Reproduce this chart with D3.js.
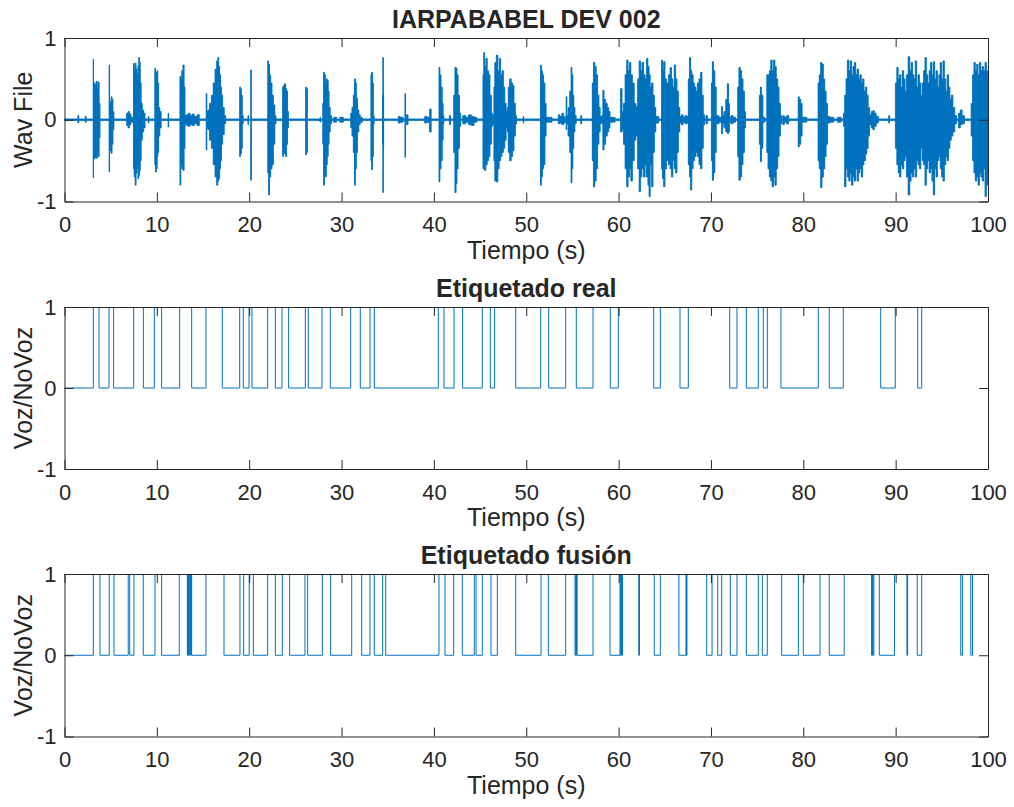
<!DOCTYPE html>
<html>
<head>
<meta charset="utf-8">
<script src="https://cdn.jsdelivr.net/npm/d3@7"></script>
<style>
  body { margin: 0; background: #ffffff; }
  text { font-family: "Liberation Sans", Arial, Helvetica, sans-serif; fill: #262626; }
</style>
</head>
<body>
<svg id="chart" width="1014" height="807"></svg>
<script>
// ---- data ----
const xTicks = [0, 10, 20, 30, 40, 50, 60, 70, 80, 90, 100];
const yTicks = [-1, 0, 1];
const panelTitles = ["IARPABABEL DEV 002", "Etiquetado real", "Etiquetado fusión"];
const yLabels = ["Wav File", "Voz/NoVoz", "Voz/NoVoz"];
const xLabel = "Tiempo (s)";

// waveform envelope: [time (s), upper peak, lower peak]
const waveEnvelope = [
  [0,0.01,-0.01],[1.4,0.01,-0.01],[1.5,0.05,-0.04],[1.6,0.01,-0.01],
  [2.2,0.01,-0.01],[2.3,0.04,-0.03],[2.4,0.01,-0.01],
  [3.1,0.01,-0.01],[3.13,0.74,-0.71],[3.16,0.2,-0.25],[3.22,0.45,-0.48],[3.35,0.43,-0.46],[3.5,0.47,-0.47],[3.6,0.38,-0.4],[3.7,0.46,-0.45],[3.8,0.2,-0.22],[3.88,0.01,-0.01],
  [4.82,0.01,-0.01],[4.86,0.67,-0.64],[4.9,0.2,-0.2],[5.0,0.22,-0.38],[5.1,0.28,-0.41],[5.2,0.25,-0.3],[5.3,0.1,-0.12],[5.4,0.01,-0.01],
  [6.65,0.01,-0.01],[6.8,0.08,-0.07],[6.95,0.1,-0.1],[7.1,0.07,-0.06],[7.3,0.03,-0.03],
  [7.45,0.03,-0.03],[7.5,0.69,-0.6],[7.6,0.6,-0.7],[7.7,0.69,-0.8],[7.8,0.62,-0.65],[7.9,0.55,-0.6],[8.0,0.66,-0.72],[8.08,0.76,-0.68],[8.15,0.7,-0.62],[8.25,0.45,-0.5],[8.35,0.2,-0.25],[8.5,0.12,-0.15],[8.65,0.08,-0.1],[8.8,0.01,-0.01],
  [9.05,0.01,-0.01],[9.1,0.04,-0.04],[9.15,0.01,-0.01],
  [9.75,0.01,-0.01],[9.82,0.63,-0.55],[9.9,0.58,-0.64],[10.0,0.55,-0.6],[10.05,0.6,-0.45],[10.15,0.45,-0.4],[10.25,0.15,-0.2],[10.4,0.1,-0.1],[10.55,0.01,-0.01],
  [11.2,0.01,-0.01],[11.25,0.08,-0.09],[11.3,0.01,-0.01],
  [12.45,0.01,-0.01],[12.55,0.53,-0.8],[12.65,0.5,-0.55],[12.75,0.6,-0.6],[12.9,0.67,-0.62],[13.0,0.4,-0.35],[13.1,0.05,-0.05],
  [13.3,0.06,-0.07],[13.5,0.08,-0.08],[13.7,0.05,-0.06],[13.9,0.07,-0.07],[14.2,0.04,-0.05],[14.5,0.06,-0.07],[14.7,0.01,-0.01],
  [15.3,0.01,-0.01],[15.38,0.32,-0.37],[15.45,0.1,-0.1],[15.6,0.12,-0.12],[15.8,0.2,-0.25],[16.0,0.3,-0.35],[16.2,0.45,-0.55],[16.4,0.62,-0.7],[16.55,0.72,-0.8],[16.65,0.76,-0.75],[16.75,0.65,-0.72],[16.85,0.55,-0.6],[16.95,0.4,-0.5],[17.05,0.3,-0.3],[17.2,0.15,-0.18],[17.4,0.05,-0.05],[17.5,0.01,-0.01],
  [18.95,0.01,-0.01],[19.0,0.4,-0.45],[19.1,0.38,-0.42],[19.2,0.3,-0.35],[19.3,0.05,-0.05],[19.4,0.01,-0.01],
  [19.85,0.01,-0.01],[19.9,0.05,-0.06],[19.95,0.01,-0.01],
  [20.15,0.01,-0.01],[20.2,0.61,-0.74],[20.25,0.01,-0.01],
  [21.98,0.01,-0.01],[22.05,0.72,-0.65],[22.15,0.68,-0.92],[22.25,0.55,-0.7],[22.4,0.45,-0.6],[22.55,0.3,-0.55],[22.7,0.18,-0.3],[22.85,0.05,-0.05],[22.95,0.01,-0.01],
  [23.6,0.01,-0.01],[23.65,0.4,-0.45],[23.75,0.42,-0.4],[23.9,0.44,-0.42],[24.0,0.38,-0.45],[24.1,0.35,-0.3],[24.2,0.1,-0.1],[24.3,0.01,-0.01],
  [26.1,0.01,-0.01],[26.15,0.4,-0.43],[26.25,0.38,-0.4],[26.35,0.01,-0.01],
  [27.65,0.01,-0.01],[27.7,0.03,-0.03],[27.75,0.01,-0.01],
  [27.95,0.01,-0.01],[28.0,0.2,-0.3],[28.1,0.58,-0.8],[28.2,0.55,-0.65],[28.3,0.45,-0.7],[28.4,0.5,-0.55],[28.5,0.48,-0.45],[28.6,0.35,-0.3],[28.7,0.15,-0.15],[28.85,0.05,-0.05],[29.0,0.01,-0.01],
  [29.3,0.03,-0.03],[29.6,0.01,-0.01],[30.0,0.03,-0.03],[30.4,0.01,-0.01],
  [30.95,0.01,-0.01],[31.05,0.08,-0.1],[31.2,0.15,-0.2],[31.35,0.3,-0.4],[31.45,0.5,-0.8],[31.55,0.45,-0.6],[31.65,0.26,-0.4],[31.8,0.12,-0.15],[31.95,0.06,-0.06],[32.1,0.03,-0.03],[32.4,0.01,-0.01],
  [33.15,0.01,-0.01],[33.22,0.55,-0.5],[33.3,0.58,-0.61],[33.4,0.45,-0.45],[33.5,0.05,-0.05],[33.55,0.01,-0.01],
  [34.42,0.01,-0.01],[34.47,0.3,-0.3],[34.5,0.76,-0.89],[34.54,0.3,-0.35],[34.58,0.01,-0.01],
  [36.1,0.01,-0.01],[36.2,0.04,-0.04],[36.5,0.03,-0.03],[36.85,0.01,-0.01],[36.9,0.32,-0.46],[36.95,0.01,-0.01],[37.1,0.06,-0.06],[37.3,0.01,-0.01],
  [38.9,0.01,-0.01],[39.1,0.04,-0.04],[39.4,0.03,-0.03],[39.65,0.13,-0.15],[39.75,0.01,-0.01],
  [40.5,0.01,-0.01],[40.6,0.64,-0.76],[40.7,0.55,-0.6],[40.85,0.4,-0.5],[40.95,0.2,-0.25],[41.05,0.05,-0.05],[41.1,0.01,-0.01],
  [41.6,0.01,-0.01],[41.75,0.05,-0.06],[41.85,0.01,-0.01],
  [42.1,0.01,-0.01],[42.2,0.3,-0.4],[42.35,0.64,-0.89],[42.45,0.63,-0.78],[42.55,0.55,-0.6],[42.7,0.3,-0.35],[42.85,0.08,-0.08],[42.95,0.01,-0.01],
  [43.3,0.05,-0.05],[43.6,0.03,-0.03],[43.9,0.06,-0.06],[44.2,0.04,-0.07],[44.5,0.03,-0.03],[44.8,0.01,-0.01],
  [45.3,0.01,-0.01],[45.35,0.55,-0.6],[45.45,0.82,-0.6],[45.55,0.65,-0.62],[45.7,0.75,-0.55],[45.85,0.6,-0.5],[46.0,0.55,-0.45],[46.15,0.3,-0.3],[46.3,0.08,-0.08],
  [46.45,0.05,-0.05],[46.55,0.4,-0.5],[46.65,0.7,-0.75],[46.85,0.79,-0.76],[47.0,0.6,-0.6],[47.15,0.75,-0.5],[47.3,0.55,-0.45],[47.45,0.6,-0.4],[47.6,0.4,-0.35],[47.75,0.2,-0.25],[47.9,0.1,-0.1],
  [48.0,0.15,-0.15],[48.1,0.4,-0.4],[48.3,0.5,-0.5],[48.45,0.45,-0.45],[48.6,0.42,-0.38],[48.75,0.2,-0.2],[48.9,0.05,-0.05],[49.0,0.01,-0.01],
  [49.65,0.01,-0.01],[49.7,0.04,-0.04],[49.75,0.01,-0.01],
  [51.5,0.01,-0.01],[51.58,0.67,-0.8],[51.7,0.6,-0.7],[51.8,0.55,-0.6],[51.95,0.45,-0.55],[52.1,0.2,-0.2],[52.2,0.03,-0.03],
  [53.4,0.01,-0.01],[53.55,0.06,-0.05],[53.75,0.04,-0.04],[53.95,0.08,-0.06],[54.15,0.04,-0.04],
  [54.3,0.01,-0.01],[54.35,0.28,-0.12],[54.45,0.05,-0.05],[54.6,0.15,-0.2],[54.8,0.35,-0.4],[54.9,0.64,-0.77],[55.0,0.55,-0.6],[55.1,0.3,-0.35],[55.2,0.15,-0.15],[55.35,0.05,-0.05],[55.45,0.01,-0.01],
  [55.85,0.01,-0.01],[55.95,0.05,-0.05],[56.05,0.01,-0.01],
  [57.1,0.01,-0.01],[57.2,0.45,-0.5],[57.35,0.7,-0.82],[57.5,0.65,-0.75],[57.65,0.55,-0.6],[57.8,0.3,-0.3],[57.95,0.15,-0.15],[58.05,0.04,-0.04],
  [58.25,0.05,-0.05],[58.35,0.36,-0.37],[58.5,0.25,-0.3],[58.7,0.2,-0.2],[58.85,0.15,-0.15],[59.0,0.1,-0.1],[59.15,0.03,-0.03],
  [60.1,0.01,-0.01],[60.3,0.38,-0.15],[60.45,0.1,-0.12],[60.6,0.2,-0.3],[60.8,0.55,-0.6],[60.95,0.73,-0.82],[61.1,0.6,-0.7],[61.25,0.7,-0.6],[61.4,0.55,-0.75],[61.6,0.45,-0.5],[61.8,0.2,-0.25],[61.95,0.16,-0.2],[62.15,0.5,-0.6],[62.3,0.72,-0.88],[62.45,0.6,-0.7],[62.6,0.7,-0.6],[62.8,0.55,-0.7],[62.95,0.5,-0.55],[63.1,0.75,-0.7],[63.25,0.65,-0.8],[63.35,0.55,-0.94],[63.5,0.4,-0.55],[63.65,0.45,-0.82],[63.8,0.3,-0.4],[63.95,0.15,-0.15],[64.1,0.04,-0.04],
  [64.6,0.01,-0.01],[64.7,0.73,-0.6],[64.8,0.6,-0.72],[64.95,0.71,-0.82],[65.1,0.5,-0.6],[65.3,0.45,-0.5],[65.5,0.55,-0.55],[65.65,0.64,-0.6],[65.8,0.5,-0.7],[65.95,0.4,-0.5],[66.1,0.67,-0.6],[66.25,0.5,-0.65],[66.4,0.35,-0.4],[66.55,0.15,-0.15],[66.7,0.04,-0.04],
  [66.9,0.06,-0.06],[67.1,0.03,-0.03],[67.3,0.05,-0.05],
  [67.5,0.04,-0.04],[67.6,0.5,-0.55],[67.75,0.76,-0.7],[67.85,0.6,-0.86],[68.0,0.55,-0.6],[68.15,0.45,-0.5],[68.3,0.4,-0.45],[68.45,0.35,-0.4],[68.6,0.45,-0.45],[68.8,0.5,-0.55],[68.95,0.58,-0.6],[69.1,0.3,-0.35],[69.25,0.06,-0.06],[69.4,0.01,-0.01],
  [69.55,0.05,-0.05],[69.7,0.01,-0.01],
  [70.0,0.01,-0.01],[70.1,0.45,-0.5],[70.2,0.71,-0.74],[70.35,0.6,-0.65],[70.5,0.4,-0.4],[70.65,0.05,-0.05],
  [71.1,0.03,-0.03],[71.2,0.16,-0.17],[71.3,0.05,-0.05],[71.5,0.1,-0.1],[71.7,0.25,-0.15],[71.85,0.44,-0.17],[71.95,0.2,-0.15],[72.05,0.03,-0.03],
  [72.3,0.05,-0.05],[72.5,0.03,-0.03],
  [72.85,0.01,-0.01],[72.95,0.4,-0.45],[73.1,0.64,-0.74],[73.25,0.6,-0.7],[73.4,0.5,-0.55],[73.55,0.35,-0.4],[73.7,0.1,-0.1],[73.8,0.01,-0.01],
  [75.2,0.01,-0.01],[75.3,0.3,-0.3],[75.4,0.4,-0.51],[75.55,0.3,-0.35],[75.7,0.03,-0.03],
  [76.0,0.01,-0.01],[76.1,0.55,-0.4],[76.25,0.55,-0.6],[76.4,0.6,-0.7],[76.55,0.73,-0.75],[76.7,0.6,-0.82],[76.85,0.73,-0.7],[77.0,0.65,-0.8],[77.15,0.5,-0.6],[77.3,0.4,-0.45],[77.45,0.2,-0.2],[77.6,0.05,-0.05],[77.7,0.01,-0.01],
  [77.85,0.05,-0.06],[78.05,0.03,-0.03],[78.3,0.05,-0.05],[78.55,0.01,-0.01],
  [79.4,0.01,-0.01],[79.5,0.28,-0.33],[79.65,0.25,-0.3],[79.8,0.2,-0.2],[79.95,0.03,-0.03],
  [80.25,0.03,-0.03],[80.5,0.01,-0.01],
  [81.55,0.01,-0.01],[81.65,0.45,-0.5],[81.8,0.55,-0.6],[81.95,0.7,-0.83],[82.1,0.68,-0.7],[82.25,0.5,-0.6],[82.4,0.35,-0.45],[82.55,0.2,-0.3],[82.7,0.04,-0.04],
  [83.1,0.03,-0.03],[83.5,0.01,-0.01],[83.9,0.03,-0.03],
  [84.3,0.01,-0.01],[84.4,0.08,-0.08],[84.55,0.3,-0.82],[84.7,0.5,-0.6],[84.85,0.73,-0.7],[85.0,0.6,-0.75],[85.15,0.72,-0.65],[85.3,0.55,-0.8],[85.45,0.65,-0.7],[85.6,0.7,-0.75],[85.75,0.55,-0.6],[85.9,0.62,-0.75],[86.05,0.5,-0.65],[86.2,0.55,-0.6],[86.35,0.45,-0.7],[86.5,0.5,-0.55],[86.65,0.35,-0.5],[86.8,0.4,-0.42],[86.95,0.3,-0.35],[87.1,0.15,-0.2],[87.25,0.06,-0.06],
  [87.45,0.1,-0.1],[87.6,0.11,-0.12],[87.8,0.08,-0.08],[88.0,0.04,-0.04],[88.3,0.01,-0.01],
  [89.2,0.01,-0.01],[89.3,0.05,-0.04],[89.4,0.01,-0.01],
  [89.9,0.01,-0.01],[90.05,0.45,-0.35],[90.2,0.64,-0.55],[90.35,0.5,-0.65],[90.5,0.55,-0.7],[90.65,0.4,-0.55],[90.8,0.6,-0.6],[90.95,0.5,-0.5],[91.1,0.35,-0.45],[91.25,0.55,-0.7],[91.45,0.77,-0.92],[91.6,0.6,-0.75],[91.75,0.7,-0.65],[91.9,0.55,-0.7],[92.05,0.5,-0.6],[92.2,0.72,-0.7],[92.35,0.4,-0.5],[92.5,0.55,-0.55],[92.65,0.45,-0.6],[92.8,0.3,-0.35],[92.95,0.45,-0.5],[93.1,0.6,-0.55],[93.25,0.76,-0.8],[93.4,0.55,-0.6],[93.55,0.45,-0.5],[93.7,0.6,-0.65],[93.85,0.7,-0.6],[94.0,0.55,-0.75],[94.15,0.71,-0.92],[94.3,0.5,-0.6],[94.45,0.6,-0.7],[94.6,0.4,-0.5],[94.75,0.55,-0.45],[94.9,0.7,-0.6],[95.05,0.5,-0.7],[95.2,0.72,-0.75],[95.35,0.5,-0.55],[95.5,0.35,-0.45],[95.65,0.55,-0.5],[95.8,0.4,-0.35],[95.95,0.25,-0.25],[96.1,0.3,-0.2],[96.3,0.15,-0.15],[96.5,0.05,-0.05],[96.7,0.01,-0.01],
  [96.9,0.08,-0.1],[97.1,0.12,-0.06],[97.3,0.05,-0.05],[97.6,0.01,-0.01],
  [98.1,0.01,-0.01],[98.25,0.2,-0.2],[98.4,0.55,-0.5],[98.55,0.7,-0.65],[98.7,0.6,-0.75],[98.85,0.68,-0.7],[99.0,0.55,-0.8],[99.15,0.7,-0.65],[99.3,0.6,-0.7],[99.45,0.65,-0.75],[99.6,0.6,-0.6],[99.75,0.7,-0.94],[99.9,0.6,-0.8],[100,0.5,-0.6]
];

// reference (manual) voice segments: [start, end] in seconds
const realVoiced = [
  [3.12,3.74],[4.82,5.32],[7.49,8.54],[9.73,10.52],[12.47,13.77],[15.32,17.09],
  [18.97,19.36],[19.98,20.30],[22.0,22.83],[23.55,24.27],[26.08,26.4],[27.88,28.78],
  [30.99,32.03],[33.08,33.55],[40.48,41.09],[42.18,43.11],[45.24,46.11],[46.58,48.86],
  [51.56,52.43],[54.27,55.42],[57.23,59.1],[59.97,63.8],[64.52,66.65],[67.55,72.03],
  [72.82,73.83],[75.13,75.67],[76.1,77.58],[81.62,82.81],[84.33,88.38],[89.96,92.39],
  [92.82,100]
];

// fused detector voice segments: [start, end] in seconds
const fusionVoiced = [
  [3.12,3.84],[4.85,5.36],[6.9,7.06],[7.52,8.53],[9.8,10.52],[12.43,13.3],
  [13.36,13.42],[13.48,13.55],[13.62,13.68],[13.72,13.77],[15.32,17.27],[19.0,19.4],
  [20.0,20.45],[22.0,22.83],[23.59,24.38],[26.04,26.33],[27.92,28.82],[31.1,32.18],
  [33.08,33.55],[34.45,34.78],[40.55,41.2],[42.14,43.08],[44.37,44.56],[45.24,46.18],
  [46.87,48.86],[51.6,52.39],[54.27,55.28],[55.36,55.42],[55.46,55.5],[57.23,59.07],
  [60.15,60.22],[60.3,60.36],[60.42,62.18],[62.26,63.86],[64.52,66.53],[67.3,67.34],
  [67.4,69.54],[70.12,70.73],[71.16,72.1],[72.82,73.83],[75.13,75.56],[76.1,77.66],
  [79.47,80.0],[81.81,82.81],[84.43,87.39],[87.5,87.55],[87.64,88.23],[89.88,91.22],
  [91.3,92.34],[92.82,97.05],[97.23,98.14],[98.32,100]
];

// ---- layout ----
const blue = "#0072BD";
const axisColor = "#262626";
const plotLeft = 64.5, plotRight = 988;
const panels = [
  { top: 38,  bottom: 201.5 },
  { top: 307, bottom: 469 },
  { top: 574, bottom: 736.5 }
];
const tickLen = 9;
const tickFont = 22, labelFont = 25;

const svg = d3.select("#chart");

function stepPoints(segments) {
  const pts = [[0, 0]];
  segments.forEach(([s, e]) => {
    pts.push([s, 1]);
    if (e < 100) pts.push([e, 0]);
  });
  const last = pts[pts.length - 1];
  pts.push([100, last[1]]);
  return pts;
}

panels.forEach((p, i) => {
  const x = d3.scaleLinear().domain([0, 100]).range([plotLeft, plotRight]);
  const y = d3.scaleLinear().domain([-1, 1]).range([p.bottom, p.top]);
  const g = svg.append("g");

  const clipId = "clip" + i;
  svg.append("clipPath").attr("id", clipId)
    .append("rect")
    .attr("x", plotLeft).attr("y", p.top)
    .attr("width", plotRight - plotLeft).attr("height", p.bottom - p.top);

  const plot = g.append("g").attr("clip-path", `url(#${clipId})`);

  if (i === 0) {
    // filled peak envelope, stepped so the edges read as individual sample strokes
    const area = d3.area()
      .x(d => x(d[0]))
      .y0(d => y(d[2]))
      .y1(d => y(d[1]))
      .curve(d3.curveStep);
    plot.append("path")
      .datum(waveEnvelope)
      .attr("d", area)
      .attr("fill", blue)
      .attr("stroke", blue)
      .attr("stroke-width", 0.8)
      .attr("stroke-linejoin", "round");
    // peak strokes at every envelope sample
    plot.selectAll("line.peak")
      .data(waveEnvelope)
      .join("line")
      .attr("class", "peak")
      .attr("x1", d => x(d[0])).attr("x2", d => x(d[0]))
      .attr("y1", d => y(d[1])).attr("y2", d => y(d[2]))
      .attr("stroke", blue)
      .attr("stroke-width", 1);
  } else {
    const segs = i === 1 ? realVoiced : fusionVoiced;
    const line = d3.line()
      .x(d => x(d[0]))
      .y(d => y(d[1]))
      .curve(d3.curveStepAfter);
    plot.append("path")
      .datum(stepPoints(segs))
      .attr("d", line)
      .attr("fill", "none")
      .attr("stroke", blue)
      .attr("stroke-width", 1);
  }

  // axes (box with inward ticks on all four sides)
  const bottomAxis = d3.axisBottom(x).tickValues(xTicks).tickSizeInner(-tickLen).tickSizeOuter(0).tickPadding(15);
  const topAxis = d3.axisTop(x).tickValues(xTicks).tickSizeInner(-tickLen).tickSizeOuter(0).tickFormat("");
  const leftAxis = d3.axisLeft(y).tickValues(yTicks).tickSizeInner(-tickLen).tickSizeOuter(0).tickPadding(8).tickFormat(d3.format("d"));
  const rightAxis = d3.axisRight(y).tickValues(yTicks).tickSizeInner(-tickLen).tickSizeOuter(0).tickFormat("");

  const ax = [
    g.append("g").attr("transform", `translate(0,${p.bottom})`).call(bottomAxis),
    g.append("g").attr("transform", `translate(0,${p.top})`).call(topAxis),
    g.append("g").attr("transform", `translate(${plotLeft},0)`).call(leftAxis),
    g.append("g").attr("transform", `translate(${plotRight},0)`).call(rightAxis)
  ];
  ax.forEach(a => {
    a.select(".domain").attr("stroke", axisColor).attr("stroke-width", 1);
    a.selectAll(".tick line").attr("stroke", axisColor).attr("stroke-width", 1);
    a.selectAll(".tick text")
      .attr("fill", axisColor)
      .style("font-family", '"Liberation Sans", Arial, sans-serif')
      .style("font-size", tickFont + "px");
  });
  ax[2].selectAll(".tick text").text(d => d === -1 ? "-1" : d);

  // title
  g.append("text")
    .attr("x", (plotLeft + plotRight) / 2)
    .attr("y", p.top - 10)
    .attr("text-anchor", "middle")
    .style("font-size", labelFont + "px")
    .style("font-weight", "bold")
    .text(panelTitles[i]);

  // x label
  g.append("text")
    .attr("x", (plotLeft + plotRight) / 2)
    .attr("y", p.bottom + 57)
    .attr("text-anchor", "middle")
    .style("font-size", labelFont + "px")
    .text(xLabel);

  // y label
  g.append("text")
    .attr("transform", `translate(32,${(p.top + p.bottom) / 2}) rotate(-90)`)
    .attr("text-anchor", "middle")
    .style("font-size", labelFont + "px")
    .text(yLabels[i]);
});
</script>
</body>
</html>
